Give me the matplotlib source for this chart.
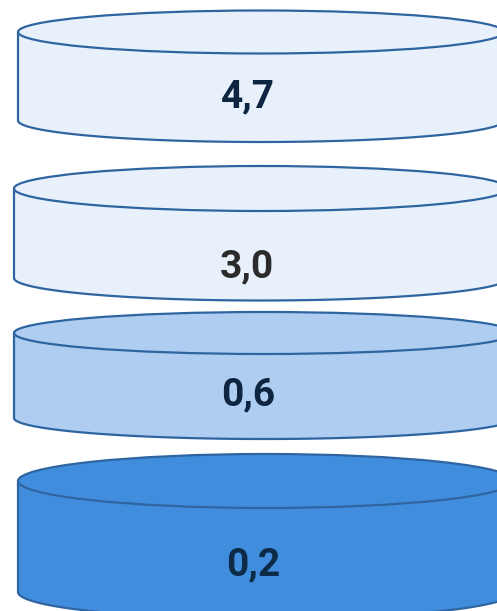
import matplotlib
matplotlib.use('Agg')
import matplotlib.pyplot as plt, numpy as np
from matplotlib.patches import Ellipse, Polygon

# values shown on the discs, top to bottom
values = [4.7, 3.0, 0.6, 0.2]

# disc layout in pixels: left, right, top ellipse centre, half height of ellipse, bottom ellipse centre
lefts = [18, 14, 14, 18]
rights = [504, 508, 514, 514]
tops = [32, 188.5, 333, 481]
radii = [21.5, 22.5, 21, 27]
bottoms = [120.5, 278, 418, 592]
baselines = [107, 277, 405, 575]
text_x = [248, 247, 248, 253]

fills = ['#e8f1fb', '#e8f1fb', '#aecdf0', '#418ddd']
text_colors = ['#0d2540', '#2b2b2b', '#0d2540', '#0d2a47']
edge = '#2e65a0'

def fmt(v):
    return ('%.1f' % v).replace('.', ',')

def Disc(ax, left, right, top, r, bottom, fill):
    cx = (left + right) / 2.
    a = (right - left) / 2.
    t = np.linspace(0, np.pi, 100)
    # body: left side down, bottom half ellipse, right side up
    arc = np.column_stack([cx - a*np.cos(t), bottom + r*np.sin(t)])
    pts = np.vstack([[left, top], arc, [right, top]])
    ax.add_patch(Polygon(pts, closed=True, fc=fill, ec=edge, lw=1.6, joinstyle='round'))
    ax.add_patch(Ellipse((cx, top), 2*a, 2*r, fc=fill, ec=edge, lw=1.6))

if __name__ == '__main__':
    fig = plt.figure(figsize=(4.97, 6.11), dpi=100, facecolor='w')
    ax = fig.add_axes([0, 0, 1, 1])
    ax.set_xlim(0, 497)
    ax.set_ylim(611, 0)
    ax.axis('off')

    for i, v in enumerate(values):
        Disc(ax, lefts[i], rights[i], tops[i], radii[i], bottoms[i], fills[i])
        ax.text(text_x[i], baselines[i], fmt(v), ha='center', va='baseline',
                fontsize=28, fontweight='bold', family='Roboto', color=text_colors[i])

    fig.savefig('out.png', dpi=100, facecolor='w')
